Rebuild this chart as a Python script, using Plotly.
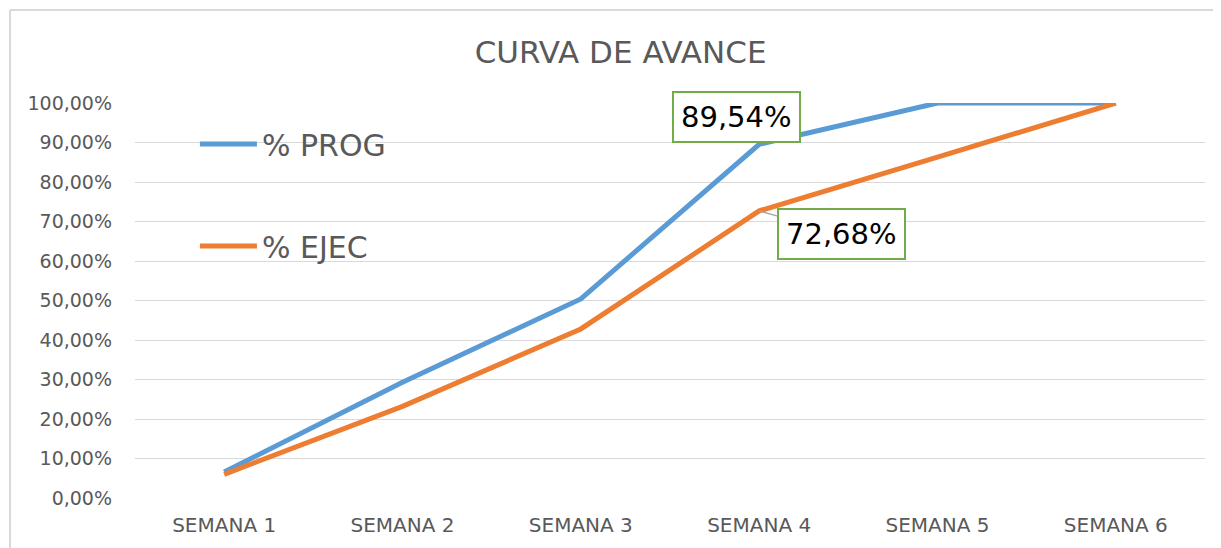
import plotly.graph_objects as go

semanas = ["SEMANA 1", "SEMANA 2", "SEMANA 3", "SEMANA 4", "SEMANA 5", "SEMANA 6"]
prog = [0.066, 0.293, 0.504, 0.8954, 1.0, 1.0]
ejec = [0.060, 0.232, 0.428, 0.7268, 0.863, 1.0]

gris = "#595959"
fuente = "DejaVu Sans"

fig = go.Figure()
fig.add_trace(go.Scatter(x=semanas, y=prog, mode="lines", name="% PROG",
                         line=dict(color="#5B9BD5", width=5), legendgroup="a"))
fig.add_trace(go.Scatter(x=semanas, y=ejec, mode="lines", name="% EJEC",
                         line=dict(color="#ED7D31", width=5), legendgroup="b"))

# etiquetas de datos en la semana 4
fig.add_annotation(x=semanas[3], y=prog[3], text="89,54%", showarrow=False,
                   xshift=-23, yshift=27, bordercolor="#70AD47", borderwidth=2,
                   borderpad=7, bgcolor="white",
                   font=dict(size=29, color="black", family=fuente))
fig.add_annotation(x=semanas[3], y=ejec[3], text="72,68%", showarrow=True,
                   ax=82, ay=23, arrowhead=0, arrowcolor="#A5A5A5", arrowwidth=1.5,
                   bordercolor="#70AD47", borderwidth=2, borderpad=7, bgcolor="white",
                   font=dict(size=29, color="black", family=fuente))

# borde del área del gráfico
fig.add_shape(type="line", xref="paper", yref="paper", x0=-0.1168, x1=1.2,
              y0=1.2354, y1=1.2354, line=dict(color="#d9d9d9", width=2))
fig.add_shape(type="line", xref="paper", yref="paper", x0=-0.1168, x1=-0.1168,
              y0=-0.2, y1=1.2354, line=dict(color="#d9d9d9", width=2))

fig.update_layout(
    width=1213, height=540,
    margin=dict(l=127, r=16, t=95, b=50),
    paper_bgcolor="white", plot_bgcolor="white",
    separators=",.",
    title=dict(text="CURVA DE AVANCE", x=0.505, xanchor="center", y=0.918, yanchor="middle",
               font=dict(size=31, color=gris, family=fuente)),
    font=dict(family=fuente, color=gris),
    legend=dict(x=0.056, y=0.962, xanchor="left", yanchor="top",
                font=dict(size=30, color=gris, family=fuente),
                itemwidth=57, tracegroupgap=60, bgcolor="rgba(0,0,0,0)"),
    xaxis=dict(range=[-0.5, 5.5], showgrid=False, showline=False, ticks="",
               ticklabelstandoff=13,
               tickfont=dict(size=20, color=gris, family=fuente)),
    yaxis=dict(range=[0, 1], dtick=0.1, tickformat=".2%", showgrid=True,
               gridcolor="#d9d9d9", gridwidth=1, zeroline=False, showline=False,
               ticks="", ticklabelstandoff=22,
               tickfont=dict(size=19, color=gris, family=fuente)),
)

fig.write_html("out.html")
